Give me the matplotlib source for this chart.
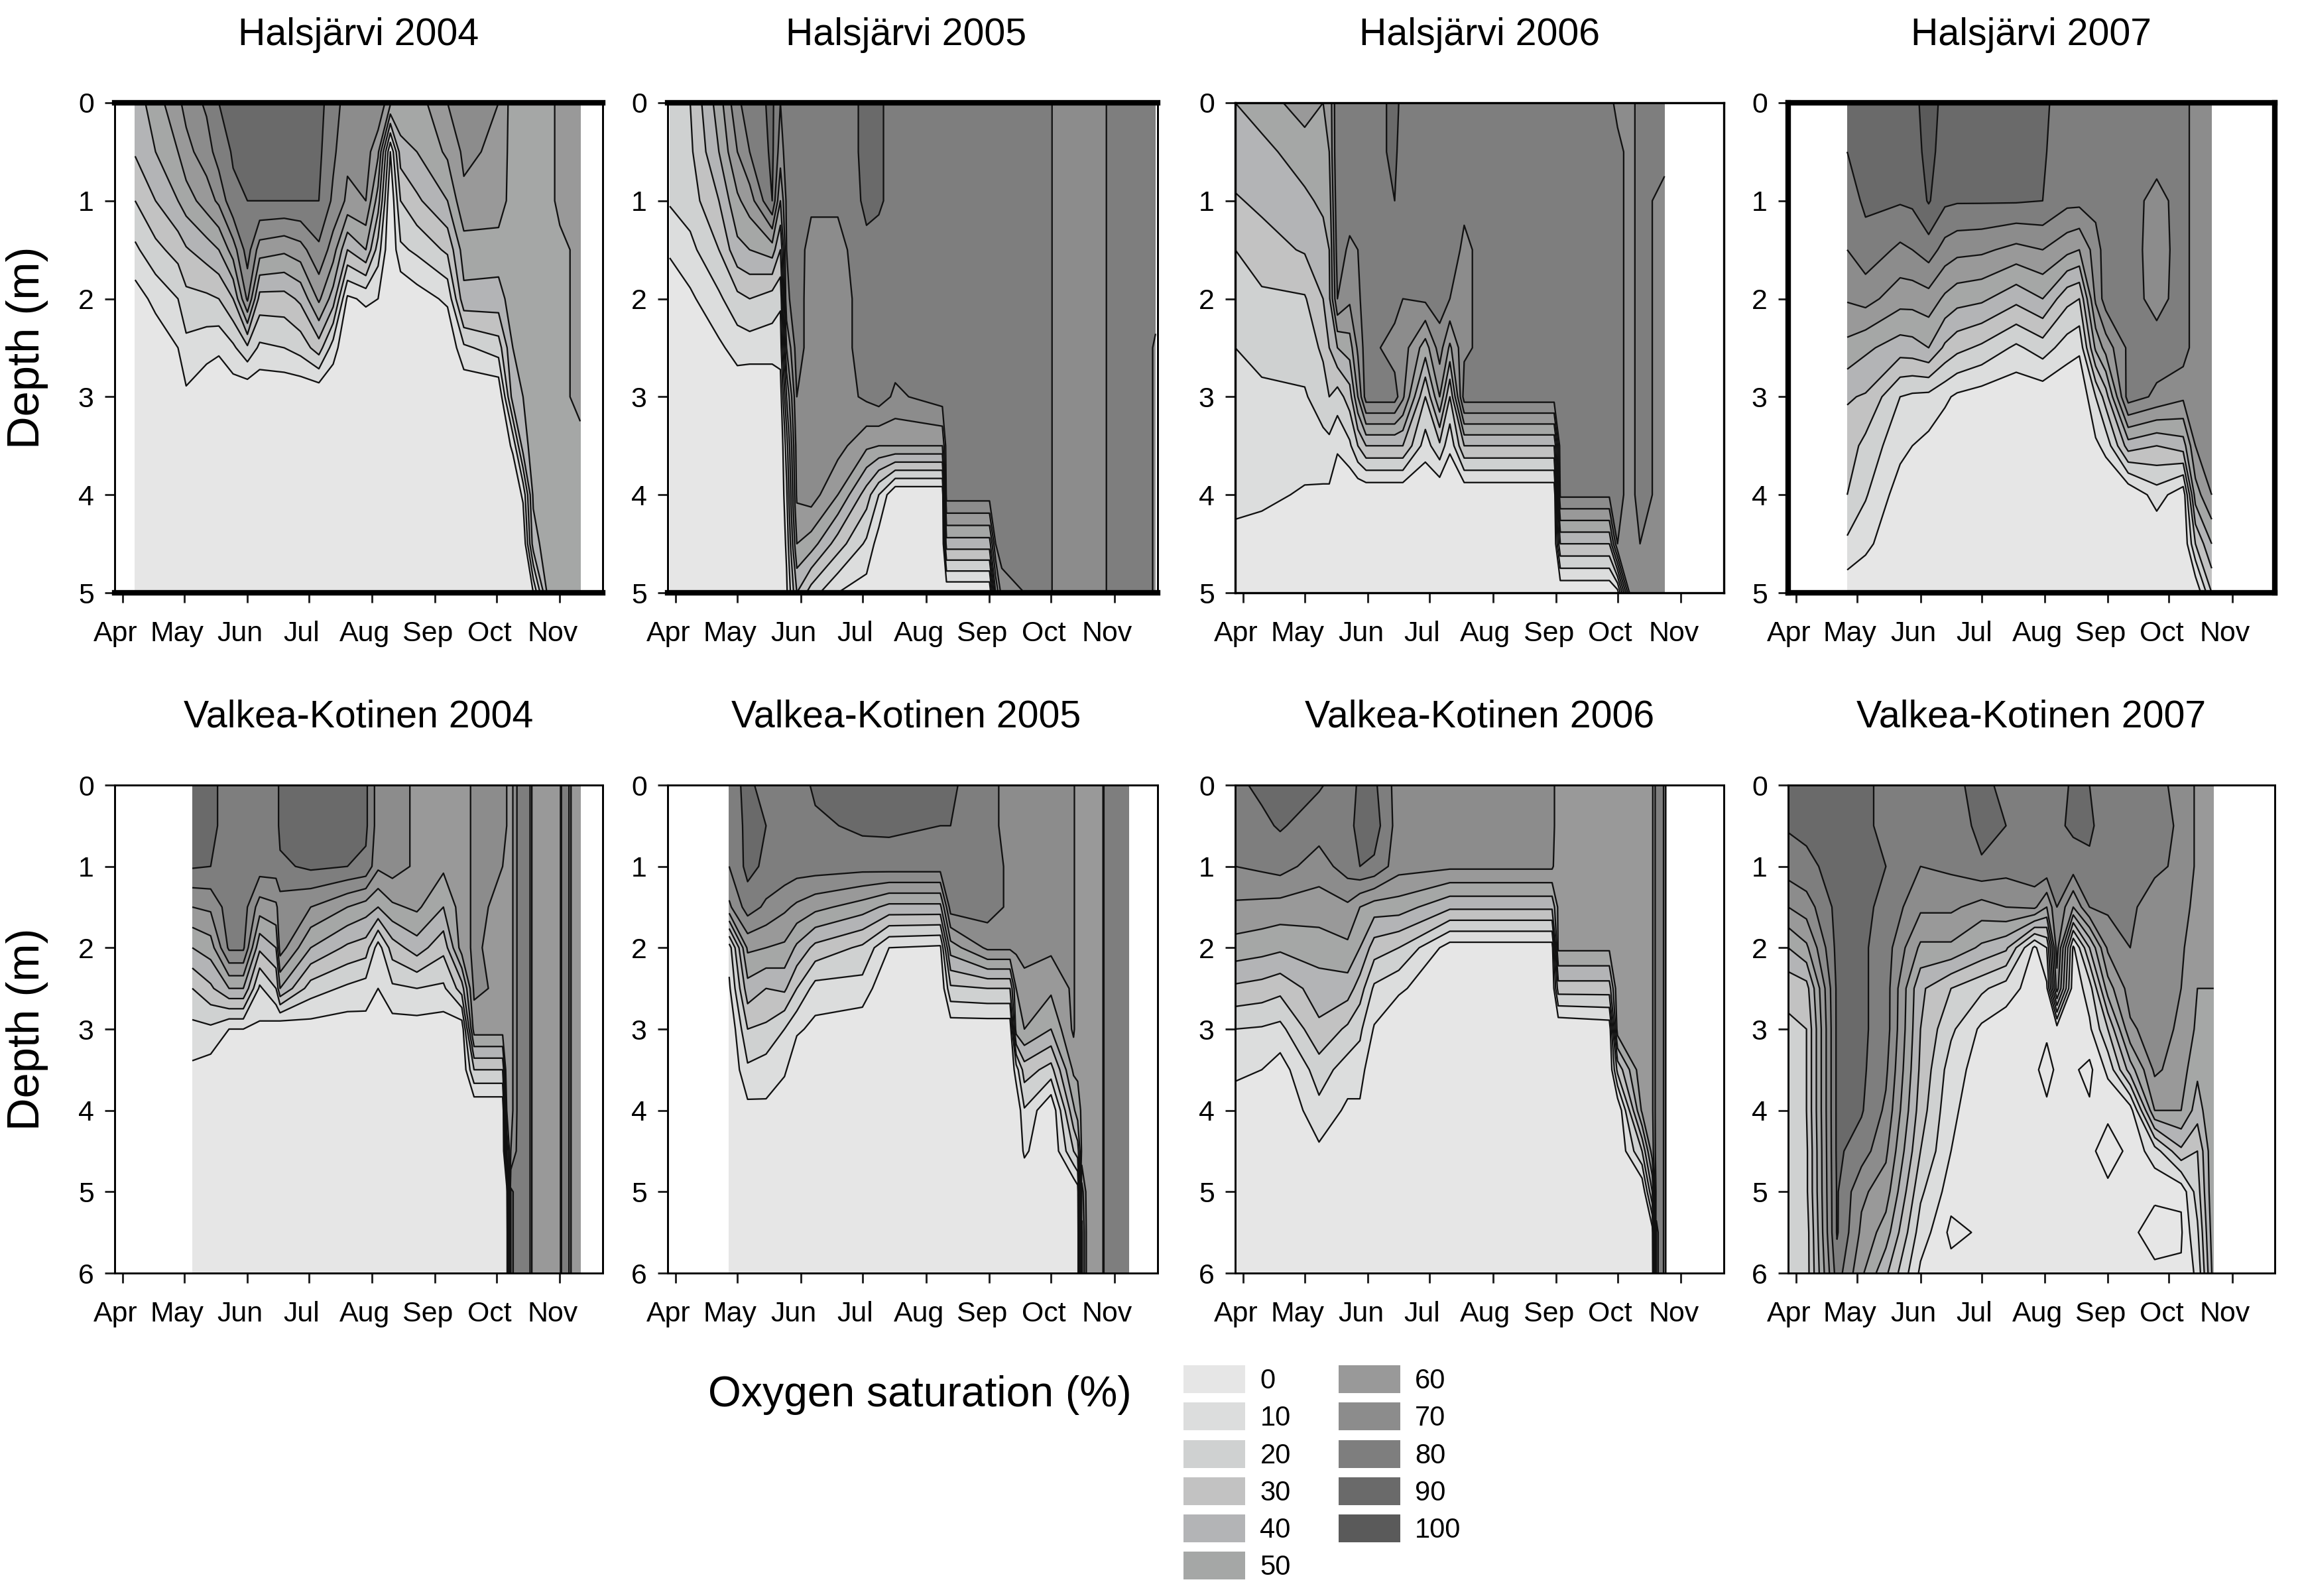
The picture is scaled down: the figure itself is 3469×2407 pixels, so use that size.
import matplotlib
matplotlib.use("Agg")
import numpy as np
import matplotlib.pyplot as plt
from matplotlib.patches import Patch
from matplotlib.transforms import ScaledTranslation

plt.rcParams['font.family'] = ['Liberation Sans', 'DejaVu Sans']

W, H = 3469, 2407

months = ["Apr", "May", "Jun", "Jul", "Aug", "Sep", "Oct", "Nov"]
month_days = [91, 121, 152, 182, 213, 244, 274, 305]

depth5 = [0, 0.5, 1, 1.5, 2, 2.5, 3, 3.5, 4, 4.5, 5]
depth6 = [0, 0.5, 1, 1.5, 2, 2.5, 3, 3.5, 4, 4.5, 5, 5.5, 6]

legend_labels = ["0", "10", "20", "30", "40", "50", "60", "70", "80", "90", "100"]
greys = ["#e6e6e6", "#dcdddd", "#cfd1d1", "#c2c2c2", "#b3b4b6", "#a5a7a6",
         "#999999", "#8c8c8c", "#7e7e7e", "#6a6a6a", "#5a5a5a"]

# day of year per sampling, then saturation (%) per depth for each sampling
h2004_days = [97, 107, 118, 122, 132, 138, 145, 152, 158, 170, 178, 187, 194, 201, 210, 216, 222, 227, 235, 250, 258, 275, 282, 287, 292, 300, 305, 315]
h2004 = [
    [45, 41, 30, 18, 5, 0, 0, 0, 0, 0, 0],
    [55, 50, 40, 27, 13, 3, 0, 0, 0, 0, 0],
    [68, 60, 50, 34, 20, 10, 2, 0, 0, 0, 0],
    [73, 67, 55, 39, 27, 17, 8, 0, 0, 0, 0],
    [82, 75, 65, 45, 28, 14, 2, 0, 0, 0, 0],
    [90, 85, 72, 50, 30, 12, 0, 0, 0, 0, 0],
    [92, 91, 88, 65, 40, 18, 3, 0, 0, 0, 0],
    [93, 92, 90, 85, 72, 28, 0, 0, 0, 0, 0],
    [93, 92, 90, 65, 36, 18, 0, 0, 0, 0, 0],
    [93, 92, 90, 62, 36, 20, 0, 0, 0, 0, 0],
    [93, 92, 90, 66, 42, 24, 0, 0, 0, 0, 0],
    [93, 92, 90, 78, 62, 35, 0, 0, 0, 0, 0],
    [85, 82, 78, 65, 45, 15, 0, 0, 0, 0, 0],
    [75, 72, 68, 40, 8, 0, 0, 0, 0, 0, 0],
    [75, 75, 70, 50, 12, 0, 0, 0, 0, 0, 0],
    [80, 62, 45, 25, 10, 0, 0, 0, 0, 0, 0],
    [62, 10, 0, 0, 0, 0, 0, 0, 0, 0, 0],
    [60, 45, 30, 18, 0, 0, 0, 0, 0, 0, 0],
    [55, 50, 38, 22, 5, 0, 0, 0, 0, 0, 0],
    [70, 62, 50, 32, 12, 0, 0, 0, 0, 0, 0],
    [75, 72, 68, 55, 47, 18, 0, 0, 0, 0, 0],
    [70, 68, 66, 55, 46, 25, 0, 0, 0, 0, 0],
    [55, 55, 55, 55, 55, 50, 45, 12, 0, 0, 0],
    [55, 55, 55, 55, 55, 55, 50, 45, 12, 0, 0],
    [55, 55, 55, 55, 55, 55, 55, 55, 52, 45, 10],
    [58, 58, 58, 58, 58, 58, 58, 58, 58, 58, 58],
    [62, 62, 62, 58, 58, 58, 58, 58, 58, 58, 58],
    [62, 62, 62, 62, 62, 62, 62, 58, 55, 52, 52],
]

h2005_days = [88, 98, 112, 121, 127, 138, 142, 145, 150, 157, 170, 184, 190, 198, 221, 223, 244, 247, 250, 272, 277, 300, 302, 320, 325]
h2005 = [
    [28, 25, 21, 12, 0, 0, 0, 0, 0, 0, 0],
    [30, 28, 25, 17, 8, 0, 0, 0, 0, 0, 0],
    [55, 50, 40, 30, 18, 8, 0, 0, 0, 0, 0],
    [78, 70, 58, 47, 27, 14, 3, 0, 0, 0, 0],
    [85, 80, 65, 50, 30, 15, 0, 0, 0, 0, 0],
    [92, 92, 90, 55, 25, 15, 0, 0, 0, 0, 0],
    [80, 75, 60, 40, 22, 14, 5, 0, 0, 0, 0],
    [85, 85, 82, 80, 78, 60, 40, 25, 18, 12, 8],
    [85, 85, 85, 85, 85, 85, 80, 75, 72, 60, 40],
    [85, 85, 82, 76, 75, 75, 75, 75, 75, 55, 25],
    [85, 85, 82, 76, 75, 75, 75, 74, 60, 35, 10],
    [92, 92, 92, 88, 85, 85, 82, 62, 35, 18, 5],
    [92, 92, 92, 85, 85, 85, 85, 60, 20, 5, 0],
    [85, 85, 85, 85, 85, 85, 78, 60, 0, 0, 0],
    [85, 85, 85, 85, 85, 85, 85, 60, 0, 0, 0],
    [85, 85, 85, 85, 85, 85, 85, 85, 85, 45, 0],
    [85, 85, 85, 85, 85, 85, 85, 85, 85, 45, 0],
    [85, 85, 85, 85, 85, 85, 85, 85, 85, 80, 50],
    [85, 85, 85, 85, 85, 85, 85, 85, 85, 85, 75],
    [85, 85, 85, 85, 85, 85, 85, 85, 85, 85, 85],
    [75, 75, 75, 75, 75, 75, 75, 75, 75, 75, 75],
    [75, 75, 75, 75, 75, 75, 75, 75, 75, 75, 75],
    [85, 85, 85, 85, 85, 85, 85, 85, 85, 85, 85],
    [85, 85, 85, 85, 85, 85, 85, 85, 85, 85, 85],
    [85, 85, 85, 85, 85, 78, 78, 78, 78, 78, 78],
]

h2006_days = [87, 100, 121, 130, 133, 137, 143, 147, 151, 165, 169, 180, 187, 192, 199, 213, 243, 246, 270, 274, 280, 285, 297]
h2006 = [
    [50, 45, 39, 30, 25, 20, 17, 15, 12, 8, 3],
    [55, 47, 42, 36, 28, 23, 18, 15, 12, 6, 0],
    [65, 55, 48, 41, 29, 24, 19, 14, 9, 3, 0],
    [60, 58, 52, 46, 40, 32, 25, 17, 8, 0, 0],
    [62, 60, 55, 50, 48, 40, 30, 17, 8, 0, 0],
    [90, 90, 88, 85, 80, 50, 25, 12, 0, 0, 0],
    [90, 90, 85, 78, 72, 55, 35, 18, 0, 0, 0],
    [85, 85, 83, 80, 78, 72, 60, 30, 0, 0, 0],
    [85, 85, 85, 85, 85, 85, 85, 40, 0, 0, 0],
    [92, 92, 90, 85, 85, 75, 85, 40, 0, 0, 0],
    [88, 85, 85, 85, 80, 75, 72, 40, 0, 0, 0],
    [85, 85, 85, 85, 82, 55, 30, 15, 0, 0, 0],
    [85, 85, 85, 85, 85, 75, 60, 28, 0, 0, 0],
    [85, 85, 85, 85, 80, 58, 30, 12, 0, 0, 0],
    [85, 85, 82, 78, 78, 78, 85, 40, 0, 0, 0],
    [85, 85, 85, 85, 85, 85, 85, 40, 0, 0, 0],
    [85, 85, 85, 85, 85, 85, 85, 40, 0, 0, 0],
    [85, 85, 85, 85, 85, 85, 85, 85, 82, 40, 0],
    [85, 85, 85, 85, 85, 85, 85, 85, 82, 40, 0],
    [75, 85, 85, 85, 85, 85, 85, 85, 85, 80, 5],
    [75, 75, 75, 75, 75, 75, 75, 75, 75, 75, 72],
    [85, 85, 85, 85, 85, 85, 85, 85, 85, 80, 75],
    [85, 85, 75, 75, 75, 75, 75, 75, 75, 75, 75],
]

h2007_days = [116, 125, 142, 148, 156, 164, 170, 182, 199, 212, 224, 230, 238, 243, 254, 268, 281, 287, 295]
h2007 = [
    [93, 90, 85, 80, 71, 57, 41, 35, 30, 18, 3],
    [93, 93, 92, 86, 74, 52, 39, 27, 21, 13, 0],
    [93, 93, 91, 78, 64, 45, 20, 13, 5, 0, 0],
    [93, 93, 92, 80, 64, 46, 18, 10, 3, 0, 0],
    [110, 105, 101, 85, 66, 50, 17, 7, 0, 0, 0],
    [93, 93, 92, 76, 58, 38, 12, 3, 0, 0, 0],
    [93, 93, 91, 73, 54, 33, 8, 0, 0, 0, 0],
    [93, 93, 91, 72, 52, 28, 5, 0, 0, 0, 0],
    [92, 91, 91, 67, 43, 18, 2, 0, 0, 0, 0],
    [92, 91, 90, 70, 50, 25, 3, 0, 0, 0, 0],
    [85, 85, 83, 63, 33, 15, 0, 0, 0, 0, 0],
    [85, 85, 83, 60, 30, 12, 0, 0, 0, 0, 0],
    [85, 85, 84, 75, 72, 52, 20, 8, 0, 0, 0],
    [85, 85, 85, 85, 85, 64, 35, 13, 0, 0, 0],
    [85, 85, 85, 85, 85, 82, 85, 45, 0, 0, 0],
    [85, 85, 76, 75, 76, 85, 78, 40, 15, 0, 0],
    [85, 85, 85, 85, 85, 85, 72, 45, 3, 0, 0],
    [75, 75, 75, 75, 75, 75, 74, 70, 55, 30, 0],
    [72, 72, 72, 72, 72, 72, 72, 72, 70, 50, 30],
]

v2004_days = [125, 134, 143, 150, 158, 166, 168, 183, 201, 210, 216, 223, 235, 248, 257, 263, 277, 279, 281, 285, 290, 292, 305, 306, 309, 311, 315]
v2004 = [
    [95, 93, 91, 70, 50, 30, 17, 8, 0, 0, 0, 0, 0],
    [93, 93, 90, 72, 55, 38, 18, 5, 0, 0, 0, 0, 0],
    [85, 85, 85, 85, 82, 50, 10, 0, 0, 0, 0, 0, 0],
    [85, 85, 85, 85, 82, 50, 10, 0, 0, 0, 0, 0, 0],
    [85, 85, 85, 65, 42, 18, 8, 0, 0, 0, 0, 0, 0],
    [85, 85, 85, 68, 50, 30, 5, 0, 0, 0, 0, 0, 0],
    [93, 93, 88, 75, 75, 50, 0, 0, 0, 0, 0, 0, 0],
    [93, 93, 92, 70, 50, 25, 5, 0, 0, 0, 0, 0, 0],
    [92, 92, 90, 60, 38, 18, 4, 0, 0, 0, 0, 0, 0],
    [92, 92, 88, 55, 35, 15, 6, 0, 0, 0, 0, 0, 0],
    [75, 75, 72, 50, 15, 10, 5, 0, 0, 0, 0, 0, 0],
    [75, 75, 75, 58, 35, 18, 5, 0, 0, 0, 0, 0, 0],
    [68, 68, 68, 62, 45, 20, 5, 0, 0, 0, 0, 0, 0],
    [65, 65, 62, 50, 33, 18, 4, 0, 0, 0, 0, 0, 0],
    [65, 65, 65, 65, 65, 35, 3, 0, 0, 0, 0, 0, 0],
    [72, 72, 72, 72, 72, 72, 65, 30, 0, 0, 0, 0, 0],
    [72, 72, 70, 68, 65, 68, 65, 30, 0, 0, 0, 0, 0],
    [70, 70, 70, 70, 70, 70, 70, 70, 60, 40, 5, 0, 0],
    [65, 65, 65, 65, 65, 65, 65, 65, 65, 70, 92, 92, 92],
    [85, 85, 85, 85, 85, 85, 85, 85, 85, 85, 85, 85, 85],
    [85, 85, 85, 85, 85, 85, 85, 85, 85, 85, 85, 85, 85],
    [62, 62, 62, 62, 62, 62, 62, 62, 62, 62, 62, 62, 62],
    [62, 62, 62, 62, 62, 62, 62, 62, 62, 62, 62, 62, 62],
    [85, 85, 85, 85, 85, 85, 85, 85, 85, 85, 85, 85, 85],
    [85, 85, 85, 85, 85, 85, 85, 85, 85, 85, 85, 85, 85],
    [65, 65, 65, 65, 65, 65, 65, 65, 65, 65, 65, 65, 65],
    [65, 65, 65, 65, 65, 65, 65, 65, 65, 65, 65, 65, 65],
]

v2005_days = [117, 126, 135, 144, 150, 159, 182, 195, 220, 225, 243, 254, 257, 261, 274, 285, 287, 289, 292, 299, 300, 312]
v2005 = [
    [85, 82, 80, 68, 15, 8, 0, 0, 0, 0, 0, 0, 0],
    [93, 93, 93, 85, 62, 46, 30, 18, 7, 0, 0, 0, 0],
    [85, 90, 88, 78, 60, 40, 28, 15, 8, 0, 0, 0, 0],
    [85, 85, 87, 72, 58, 42, 20, 12, 0, 0, 0, 0, 0],
    [85, 85, 85, 68, 48, 30, 12, 0, 0, 0, 0, 0, 0],
    [92, 88, 85, 63, 37, 16, 7, 0, 0, 0, 0, 0, 0],
    [92, 92, 84, 55, 28, 16, 3, 0, 0, 0, 0, 0, 0],
    [92, 92, 85, 47, 10, 0, 0, 0, 0, 0, 0, 0, 0],
    [92, 90, 85, 47, 8, 0, 0, 0, 0, 0, 0, 0, 0],
    [92, 90, 88, 85, 55, 28, 3, 0, 0, 0, 0, 0, 0],
    [82, 82, 85, 85, 72, 30, 3, 0, 0, 0, 0, 0, 0],
    [78, 78, 78, 78, 72, 30, 3, 0, 0, 0, 0, 0, 0],
    [72, 72, 72, 72, 72, 60, 55, 15, 0, 0, 0, 0, 0],
    [72, 72, 72, 72, 72, 68, 60, 35, 19, 12, 0, 0, 0],
    [72, 72, 72, 72, 72, 62, 50, 26, 0, 0, 0, 0, 0],
    [72, 72, 72, 72, 72, 72, 72, 62, 48, 30, 0, 0, 0],
    [62, 62, 62, 62, 62, 62, 62, 62, 55, 35, 5, 0, 0],
    [62, 62, 62, 62, 62, 62, 62, 62, 62, 62, 85, 92, 92],
    [62, 62, 62, 62, 62, 62, 62, 62, 62, 62, 62, 62, 62],
    [62, 62, 62, 62, 62, 62, 62, 62, 62, 62, 62, 62, 62],
    [85, 85, 85, 85, 85, 85, 85, 85, 85, 85, 85, 85, 85],
    [85, 85, 85, 85, 85, 85, 85, 85, 85, 85, 85, 85, 85],
]

v2006_days = [87, 100, 109, 128, 142, 148, 155, 167, 192, 242, 245, 270, 274, 286, 291, 293, 296, 298]
v2006 = [
    [88, 85, 80, 68, 56, 38, 20, 12, 5, 0, 0, 0, 0],
    [92, 88, 82, 67, 54, 36, 19, 10, 3, 0, 0, 0, 0],
    [95, 91, 84, 66, 52, 33, 17, 5, 0, 0, 0, 0, 0],
    [91, 85, 75, 65, 55, 45, 38, 25, 17, 8, 0, 0, 0],
    [85, 85, 85, 68, 58, 45, 28, 15, 8, 0, 0, 0, 0],
    [92, 95, 90, 60, 50, 35, 22, 15, 8, 0, 0, 0, 0],
    [92, 95, 88, 55, 35, 18, 9, 0, 0, 0, 0, 0, 0],
    [75, 75, 74, 55, 30, 12, 0, 0, 0, 0, 0, 0, 0],
    [75, 75, 72, 42, 5, 0, 0, 0, 0, 0, 0, 0, 0],
    [75, 75, 72, 42, 5, 0, 0, 0, 0, 0, 0, 0, 0],
    [62, 62, 62, 62, 62, 35, 0, 0, 0, 0, 0, 0, 0],
    [62, 62, 62, 62, 62, 35, 3, 0, 0, 0, 0, 0, 0],
    [68, 68, 68, 68, 68, 68, 65, 33, 0, 0, 0, 0, 0],
    [68, 68, 68, 68, 68, 68, 68, 68, 62, 30, 0, 0, 0],
    [68, 68, 68, 68, 68, 68, 68, 68, 68, 65, 40, 5, 0],
    [85, 85, 85, 85, 85, 85, 85, 85, 85, 85, 85, 92, 92],
    [85, 85, 85, 85, 85, 85, 85, 85, 85, 85, 85, 85, 85],
    [65, 65, 65, 65, 65, 65, 65, 65, 65, 65, 65, 65, 65],
]

v2007_days = [87, 96, 111, 123, 135, 152, 167, 182, 194, 208, 214, 219, 227, 235, 244, 255, 267, 280, 288, 296]
v2007 = [
    [92, 91, 85, 70, 50, 33, 28, 25, 24, 22, 21, 20, 20],
    [92, 92, 88, 75, 58, 36, 30, 30, 30, 28, 28, 25, 25],
    [95, 95, 93, 93, 93, 92, 92, 92, 92, 92, 91, 91, 85],
    [92, 92, 92, 92, 92, 92, 92, 92, 91, 85, 72, 68, 62],
    [88, 88, 90, 88, 85, 85, 85, 82, 78, 72, 65, 55, 42],
    [85, 82, 80, 72, 58, 42, 40, 38, 35, 30, 22, 15, 8],
    [86, 80, 82, 72, 58, 30, 22, 15, 12, 10, 5, 0, 5],
    [95, 95, 88, 66, 48, 22, 8, 5, 4, 3, 3, 3, 3],
    [85, 90, 84, 70, 42, 15, 4, 3, 3, 3, 3, 3, 3],
    [88, 85, 88, 72, 8, 5, 3, 3, 3, 3, 3, 3, 3],
    [90, 85, 88, 60, 20, 8, 3, 0, 3, 3, 3, 3, 3],
    [85, 88, 88, 80, 75, 65, 5, 3, 3, 3, 3, 3, 3],
    [92, 92, 85, 60, 8, 3, 3, 3, 3, 3, 3, 3, 3],
    [90, 92, 88, 80, 40, 15, 8, 0, 3, 3, 3, 3, 3],
    [85, 84, 84, 82, 72, 55, 30, 12, 3, 0, 3, 3, 3],
    [82, 82, 82, 82, 80, 75, 68, 45, 5, 3, 3, 3, 3],
    [82, 85, 82, 75, 75, 75, 75, 72, 60, 15, 3, 0, 3],
    [78, 78, 78, 76, 72, 70, 68, 65, 60, 38, 3, 1, 3],
    [68, 68, 68, 65, 62, 60, 58, 52, 45, 30, 25, 18, 12],
    [65, 65, 65, 62, 62, 60, 60, 60, 60, 60, 60, 58, 55],
]

titles = ["Halsjärvi 2004", "Halsjärvi 2005", "Halsjärvi 2006", "Halsjärvi 2007",
          "Valkea-Kotinen 2004", "Valkea-Kotinen 2005", "Valkea-Kotinen 2006", "Valkea-Kotinen 2007"]
all_days = [h2004_days, h2005_days, h2006_days, h2007_days, v2004_days, v2005_days, v2006_days, v2007_days]
all_sat = [h2004, h2005, h2006, h2007, v2004, v2005, v2006, v2007]

col_px = [(173, 909), (1007, 1746), (1863, 2600), (2697, 3431)]
row_px = [(155, 894), (1184, 1920)]
# line widths for frame, (top/bottom, left/right)
frame_lw = [(2.0, 0.7), (2.0, 0.7), (0.8, 0.8), (2.0, 2.0), (0.7, 0.7), (0.7, 0.7), (0.7, 0.7), (0.7, 0.7)]

fig = plt.figure(figsize=(W / 300, H / 300), dpi=300)
levels = list(range(0, 120, 10))
line_levels = list(range(10, 110, 10))

for i in range(8):
    r, c = i // 4, i % 4
    x0, x1 = col_px[c]
    y0, y1 = row_px[r]
    ax = fig.add_axes([x0 / W, 1 - y1 / H, (x1 - x0) / W, (y1 - y0) / H])

    depth = depth5 if r == 0 else depth6
    z = np.array(all_sat[i], dtype=float).T
    ax.contourf(all_days[i], depth, z, levels=levels, colors=greys)
    ll = [2] + line_levels if i == 7 else line_levels  # pale islands in the last panel
    ax.contour(all_days[i], depth, z, levels=ll, colors="#111111", linewidths=0.55)

    ax.set_xlim(87, 326)
    ax.set_ylim(depth[-1], 0)
    ax.set_yticks(range(depth[-1] + 1))
    ax.set_xticks(month_days)
    ax.set_xticklabels(months)
    ax.tick_params(axis="both", labelsize=10.3, length=3.5, width=0.7, color="#222222")
    ax.tick_params(axis="x", pad=6.5)
    ax.tick_params(axis="y", pad=4)
    # month names sit a little left of their ticks
    shift = ScaledTranslation(-11 / 300, 0, fig.dpi_scale_trans)
    for lab in ax.get_xticklabels():
        lab.set_transform(lab.get_transform() + shift)

    lw_h, lw_v = frame_lw[i]
    ax.spines["top"].set_linewidth(lw_h)
    ax.spines["bottom"].set_linewidth(lw_h)
    ax.spines["left"].set_linewidth(lw_v)
    ax.spines["right"].set_linewidth(lw_v)

    ax.set_title(titles[i], fontsize=13.75, pad=21, x=0.487 if c == 1 else 0.5)
    if c == 0:
        ax.set_ylabel("Depth (m)", fontsize=16.5)
        ax.yaxis.set_label_coords(-0.136, 0.5)

fig.text(1387 / W, 1 - 2104 / H, "Oxygen saturation (%)", fontsize=15.4, ha="center", va="center")

handles = [Patch(facecolor=g, edgecolor="none") for g in greys]
fig.legend(handles, legend_labels, ncol=2, loc="upper left",
           bbox_to_anchor=(1785 / W, 1 - 2059 / H), frameon=False, fontsize=10,
           borderpad=0, borderaxespad=0, handlelength=2.24, handleheight=1.18,
           labelspacing=0.29, handletextpad=0.53, columnspacing=1.73)

fig.savefig("out.png", dpi=300)
